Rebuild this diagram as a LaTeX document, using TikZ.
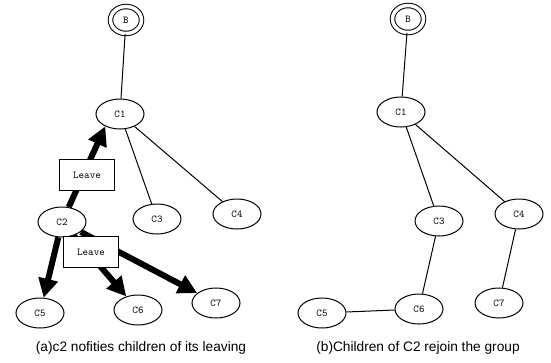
\documentclass[tikz,border=0pt]{standalone}
\usepackage{fontspec}
\setsansfont{Liberation Sans}
\usetikzlibrary{shapes.geometric,arrows.meta}

\begin{document}
\begin{tikzpicture}[x=1pt, y=-1pt, font=\ttfamily\fontsize{10.5}{12}\selectfont,
		member/.style={draw, ellipse, line width=1pt, minimum width=48pt, minimum height=30pt, inner sep=0pt},
		broker/.style={member, double, double distance=3.5pt, minimum width=31pt, minimum height=27pt},
		leavebox/.style={draw, fill=white, line width=1pt, minimum width=55pt, minimum height=31pt, inner sep=0pt},
		notify/.style={line width=6pt, -{Triangle[length=19pt 0 0,width=19pt 0]}},
		caption/.style={font=\sffamily\fontsize{13.7}{16}\selectfont}]
		\useasboundingbox (0,0) rectangle (551,362);

		% (a) before the rejoin
		\node[broker] (aB) at (126, 20) {B};
		\node[member] (aC1) at (120, 114) {C1};
		\node[member] (aC2) at (62, 222) {C2};
		\node[member] (aC3) at (157, 219) {C3};
		\node[member] (aC4) at (237, 214) {C4};
		\node[member] (aC5) at (40, 313) {C5};
		\node[member] (aC6) at (138, 310) {C6};
		\node[member] (aC7) at (216, 303) {C7};

		\path (aB) edge[line width=1pt] (aC1)
		(aC1) edge[line width=1pt] (aC3)
		(aC1) edge[line width=1pt] (aC4);
		\path (aC2) edge[notify] (aC1.220)
		(aC2) edge[notify] (aC5)
		(aC2) edge[notify] (aC6)
		(aC2) edge[notify] (aC7);

		\node[leavebox] (lv1) at (87, 175) {Leave};
		\node[leavebox] (lv2) at (91, 252) {Leave};

		\node[caption] (capA) at (141, 348) {(a)c2 nofities children of its leaving};

		% (b) after the rejoin
		\node[broker] (bB) at (408, 19) {B};
		\node[member] (bC1) at (401, 112) {C1};
		\node[member] (bC3) at (439, 221) {C3};
		\node[member] (bC4) at (519, 214) {C4};
		\node[member] (bC5) at (322, 313) {C5};
		\node[member] (bC6) at (419, 309) {C6};
		\node[member] (bC7) at (499, 303) {C7};

		\path (bB) edge[line width=1pt] (bC1)
		(bC1) edge[line width=1pt] (bC3)
		(bC1) edge[line width=1pt] (bC4)
		(bC3) edge[line width=1pt] (bC6)
		(bC6) edge[line width=1pt] (bC5)
		(bC4) edge[line width=1pt] (bC7);

		\node[caption] (capB) at (418, 348) {(b)Children of C2 rejoin the group};
	\end{tikzpicture}
\end{document}
